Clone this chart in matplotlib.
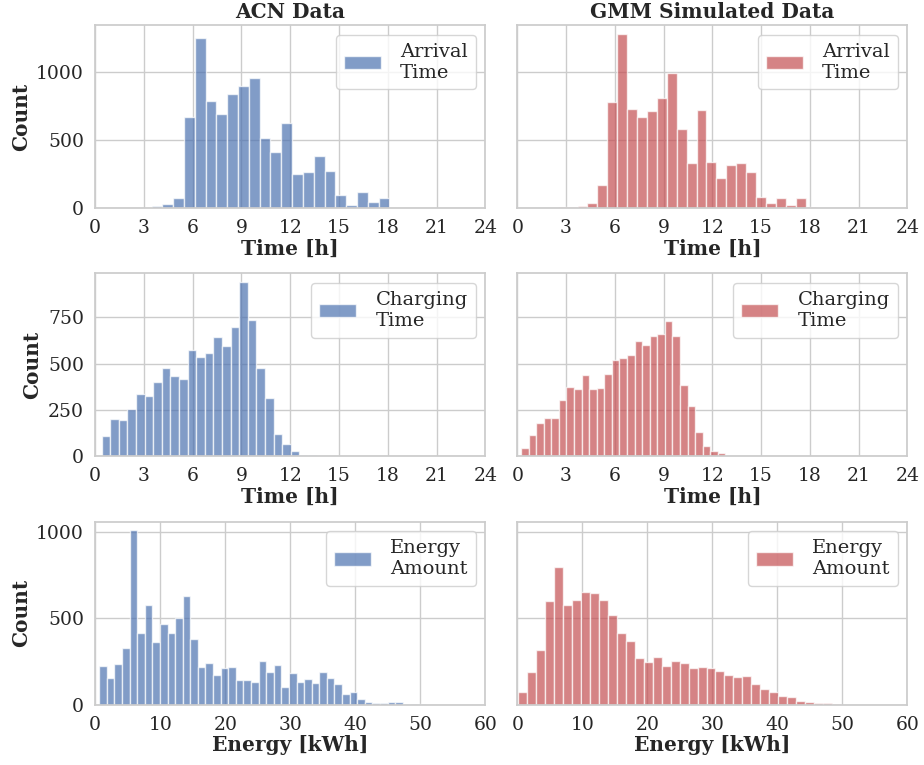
import numpy as np
import matplotlib
matplotlib.use("Agg")
import matplotlib.pyplot as plt
import seaborn as sns

sns.set_theme(style="whitegrid")
plt.rcParams['font.family'] = ['DejaVu Serif']
plt.rcParams['font.size'] = 13.5

# histogram counts (bin start, bin width, counts)
acn_arrival_start, acn_arrival_width = 3.47, 0.665
acn_arrival = [15, 27, 77, 674, 1257, 790, 691, 840, 901, 956, 514, 417, 625,
               252, 269, 385, 272, 99, 25, 121, 47, 77]

gmm_arrival_start, gmm_arrival_width = 2.49, 0.61
gmm_arrival = [7, 10, 17, 37, 173, 783, 1284, 728, 672, 714, 815, 995, 580,
               336, 721, 338, 225, 321, 336, 267, 84, 40, 77, 22, 74, 12]

acn_charging_start, acn_charging_width = 0.40, 0.529
acn_charging = [109, 203, 196, 257, 337, 326, 402, 475, 435, 417, 571, 533,
                558, 645, 594, 697, 938, 735, 476, 315, 120, 67, 27, 7, 5]

gmm_charging_start, gmm_charging_width = 0.226, 0.466
gmm_charging = [43, 116, 178, 207, 207, 306, 373, 361, 440, 361, 366, 442,
                520, 527, 545, 621, 598, 649, 658, 728, 649, 386, 272, 130,
                56, 27, 20]

acn_energy_start, acn_energy_width = 0.63, 1.167
acn_energy = [223, 153, 236, 329, 1008, 413, 578, 362, 467, 415, 500, 630,
              382, 219, 238, 169, 211, 219, 145, 141, 130, 252, 190, 229, 103,
              184, 132, 147, 122, 188, 153, 120, 64, 74, 33, 14, 8, 8, 12, 16,
              4, 4, 2]

gmm_energy_start, gmm_energy_width = 0.17, 1.378
gmm_energy = [74, 188, 316, 597, 795, 578, 607, 651, 647, 603, 516, 413, 370,
              269, 248, 275, 225, 250, 240, 209, 215, 213, 194, 171, 157, 165,
              118, 91, 72, 52, 43, 19, 16, 10, 8, 2]

rows = [
    ("Arrival\nTime", "Time [h]", 24, np.arange(0, 25, 3),
     (acn_arrival_start, acn_arrival_width, acn_arrival),
     (gmm_arrival_start, gmm_arrival_width, gmm_arrival)),
    ("Charging\nTime", "Time [h]", 24, np.arange(0, 25, 3),
     (acn_charging_start, acn_charging_width, acn_charging),
     (gmm_charging_start, gmm_charging_width, gmm_charging)),
    ("Energy\nAmount", "Energy [kWh]", 60, np.arange(0, 61, 10),
     (acn_energy_start, acn_energy_width, acn_energy),
     (gmm_energy_start, gmm_energy_width, gmm_energy)),
]

colors = ["#4c72b0", "#c44e52"]

fig, axes = plt.subplots(3, 2, figsize=(9.24, 7.65), dpi=100, sharey='row')
plt.subplots_adjust(left=0.103, right=0.982, bottom=0.079, top=0.967,
                    wspace=0.082, hspace=0.357)

for r, (lab, xlab, xmax, xt, acn, gmm) in enumerate(rows):
    for c, (start, w, counts) in enumerate([acn, gmm]):
        ax = axes[r, c]
        counts = np.array(counts)
        left = start + w * np.arange(len(counts))
        ax.bar(left, counts, width=w, align='edge', color=colors[c], alpha=0.7,
               edgecolor='white', linewidth=1, label=lab)
        ax.set_xlim(0, xmax)
        ax.set_xticks(xt)
        ax.set_xlabel(xlab, fontweight='bold', fontsize=14.5, labelpad=1)
        ax.tick_params(axis='both', labelsize=13.5, pad=2)
        ax.legend(loc='upper right', fontsize=14, frameon=True,
                  handlelength=1.9, handletextpad=1.0, labelspacing=0.3)
        for s in ax.spines.values():
            s.set_color('#cccccc')
        if c == 0:
            ax.set_ylabel("Count", fontweight='bold', fontsize=14.5)
        else:
            ax.tick_params(axis='y', labelleft=False)

axes[0, 0].set_title("ACN Data", fontweight='bold', fontsize=14.5, pad=5)
axes[0, 1].set_title("GMM Simulated Data", fontweight='bold', fontsize=14.5, pad=5)
axes[0, 0].set_yticks([0, 500, 1000])
axes[1, 0].set_yticks([0, 250, 500, 750])
axes[2, 0].set_yticks([0, 500, 1000])

plt.savefig("out.png", dpi=100)
